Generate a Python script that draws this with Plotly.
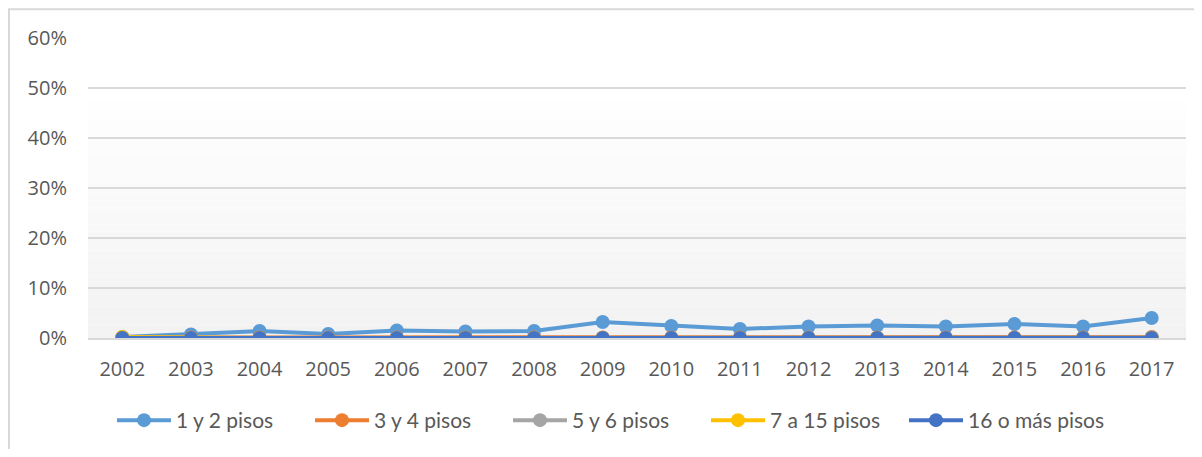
import plotly.graph_objects as go

years = [str(y) for y in range(2002, 2018)]
s_1y2 = [0.002, 0.007, 0.014, 0.008, 0.015, 0.013, 0.014, 0.032, 0.024, 0.018, 0.023, 0.025, 0.023, 0.028, 0.023, 0.040]
s_3y4 = [0.001, 0.001, 0.001, 0.001, 0.001, 0.001, 0.001, 0.001, 0.001, 0.001, 0.001, 0.001, 0.001, 0.001, 0.001, 0.002]
s_5y6 = [0.001, 0.000, 0.000, 0.000, 0.000, 0.000, 0.000, 0.000, 0.000, 0.000, 0.000, 0.000, 0.000, 0.000, 0.000, 0.001]
s_7a15 = [0.002, 0.000, 0.000, 0.000, 0.000, 0.000, 0.000, 0.000, 0.000, 0.000, 0.000, 0.000, 0.000, 0.000, 0.000, 0.000]
s_16 = [0.000, 0.000, 0.000, 0.000, 0.000, 0.000, 0.000, 0.000, 0.000, 0.000, 0.000, 0.000, 0.000, 0.000, 0.000, 0.000]

series = [
    ("1 y 2 pisos", s_1y2, "#5B9BD5", "legend"),
    ("3 y 4 pisos", s_3y4, "#ED7D31", "legend"),
    ("5 y 6 pisos", s_5y6, "#A5A5A5", "legend"),
    ("7 a 15 pisos", s_7a15, "#FFC000", "legend"),
    ("16 o más pisos", s_16, "#4472C4", "legend2"),
]

fig = go.Figure()
for name, vals, col, lg in series:
    fig.add_trace(go.Scatter(
        x=years, y=vals, name=name, mode="lines+markers",
        line=dict(color=col, width=4),
        marker=dict(color=col, size=14),
        legend=lg,
    ))

W, H = 1186, 441
L, R, T, B = 80, 8, 30, 109
PW = W - L - R
PH = H - T - B

# gradient plot background (white at top, light gray toward bottom)
shapes = []
n = 40
for i in range(n):
    y0 = 0.5 * i / n
    y1 = 0.5 * (i + 1) / n
    t = (i + 0.5) / n
    c = int(round(242 + (255 - 242) * t))
    shapes.append(dict(type="rect", xref="x domain", yref="y domain",
                       x0=0, x1=1, y0=y0 / 0.6, y1=y1 / 0.6,
                       fillcolor=f"rgb({c},{c},{c})", line=dict(width=0), layer="below"))
# chart border
shapes.append(dict(type="rect", xref="paper", yref="paper",
                   x0=(1 - L) / PW, x1=1 + (R + 20) / PW,
                   y0=-(B + 20) / PH, y1=1 + (T - 1) / PH,
                   line=dict(color="#D9D9D9", width=2), fillcolor="rgba(0,0,0,0)", layer="below"))

legend_font = dict(family="Lato", size=21, color="#595959")
fig.update_layout(
    width=W, height=H,
    margin=dict(l=L, r=R, t=T, b=B),
    paper_bgcolor="white", plot_bgcolor="white",
    font=dict(family="Open Sans", size=20, color="#595959"),
    showlegend=True,
    legend=dict(orientation="h", x=(104 - L) / PW, xanchor="left", y=-0.275, yanchor="middle",
                font=legend_font, itemwidth=54, entrywidth=129, entrywidthmode="pixels",
                bgcolor="rgba(0,0,0,0)"),
    legend2=dict(orientation="h", x=(896 - L) / PW, xanchor="left", y=-0.275, yanchor="middle",
                 font=legend_font, itemwidth=54, bgcolor="rgba(0,0,0,0)"),
    shapes=shapes,
    xaxis=dict(type="category", range=[-0.5, 15.5], showgrid=False,
               showline=True, linecolor="#D9D9D9", linewidth=2,
               ticks="", ticklabelstandoff=12,
               tickfont=dict(family="Open Sans", size=20, color="#595959")),
    yaxis=dict(range=[0, 0.6], dtick=0.1, tickformat=".0%",
               showgrid=True, gridcolor="#D9D9D9", gridwidth=2,
               zeroline=False, showline=False, ticks="", ticklabelstandoff=20,
               tickfont=dict(family="Open Sans", size=20, color="#595959")),
)

fig.write_html("out.html")
